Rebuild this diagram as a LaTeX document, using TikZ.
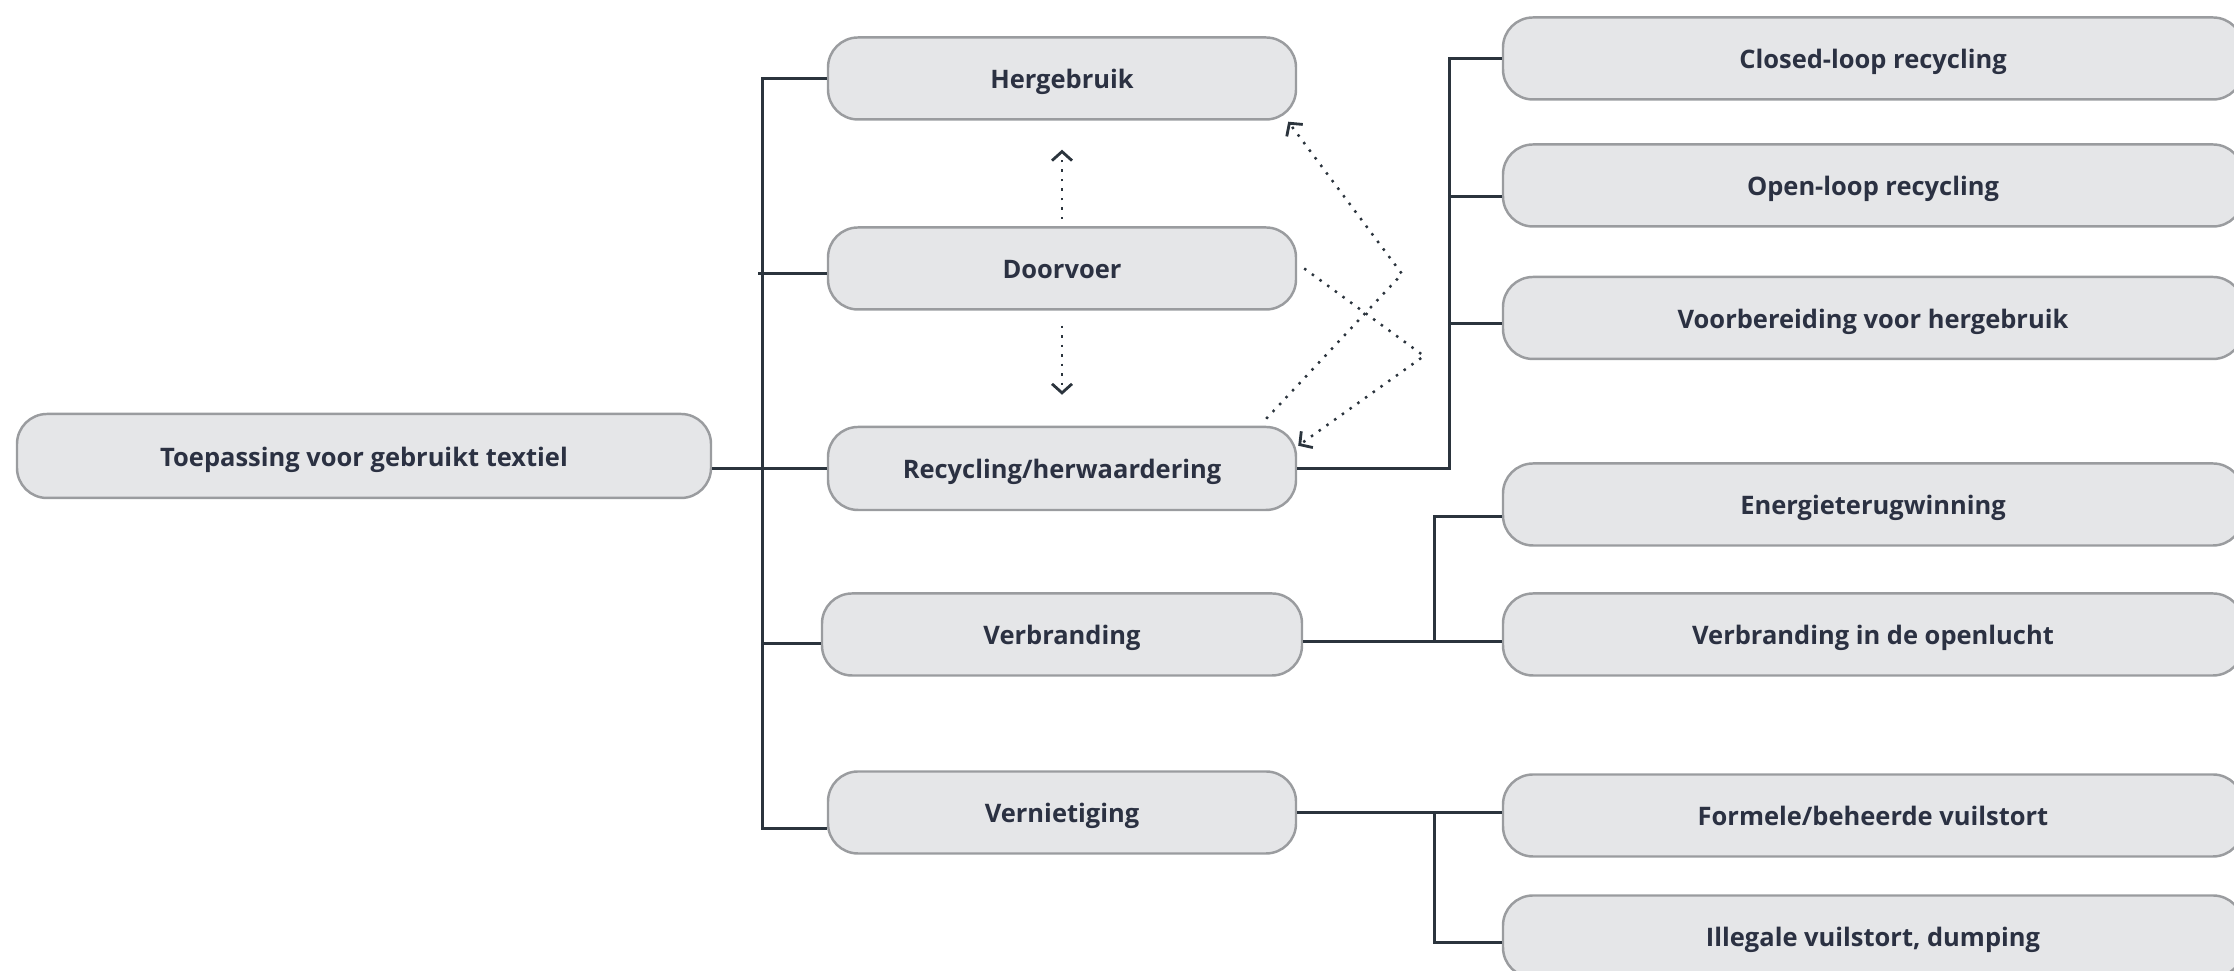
\documentclass[tikz,border=0pt]{standalone}
\usepackage{fontspec}
\setmainfont{Open Sans}
\usetikzlibrary{arrows.meta}

\definecolor{boxfill}{HTML}{E5E6E8}
\definecolor{boxline}{HTML}{9A9C9F}
\definecolor{linkcol}{HTML}{2B343D}
\definecolor{textcol}{HTML}{2B3142}

\tikzset{
  item/.style={draw=boxline, line width=0.7pt, fill=boxfill, rounded corners=0.3cm,
    minimum height=0.82cm, inner sep=0pt, text height=0.21cm, text depth=0cm,
    text=textcol, font=\bfseries\fontsize{7.25}{9}\selectfont},
  midbox/.style={item, minimum width=4.68cm},
  leafbox/.style={item, minimum width=7.40cm},
  link/.style={draw=linkcol, line width=0.85pt},
  dotlink/.style={draw=linkcol, line width=0.7pt, dotted,
    -{Straight Barb[length=0.09cm, width=0.2cm, line width=0.8pt]}}
}

\begin{document}
\begin{tikzpicture}
        \useasboundingbox (0,0) rectangle (22.34,9.71);
        \clip (0,0) rectangle (22.34,9.71);

        \node [item, minimum width=6.94cm, minimum height=0.84cm] (toep) at (3.64,5.15) {Toepassing voor gebruikt textiel};

        \node [midbox] (herg) at (10.62,8.925) {Hergebruik};
        \node [midbox] (door) at (10.62,7.025) {Doorvoer};
        \node [midbox, minimum height=0.83cm] (recy) at (10.62,5.025) {Recycling/herwaardering};
        \node [midbox, minimum width=4.80cm] (verb) at (10.62,3.365) {Verbranding};
        \node [midbox] (vern) at (10.62,1.585) {Vernietiging};

        \node [leafbox] (closed) at (18.73,9.125) {Closed-loop recycling};
        \node [leafbox] (open) at (18.73,7.855) {Open-loop recycling};
        \node [leafbox] (voorb) at (18.73,6.53) {Voorbereiding voor hergebruik};
        \node [leafbox] (energie) at (18.73,4.665) {Energieterugwinning};
        \node [leafbox] (openl) at (18.73,3.365) {Verbranding in de openlucht};
        \node [leafbox] (formeel) at (18.73,1.555) {Formele/beheerde vuilstort};
        \node [leafbox] (illegaal) at (18.73,0.345) {Illegale vuilstort, dumping};

        % tree lines
        \coordinate (spine) at (7.62,5.04);
        \coordinate (rfork) at (14.49,5.04);
        \coordinate (vfork) at (14.34,3.29);
        \coordinate (vernin) at ([yshift=-0.165cm]vern.west);
        \coordinate (verbin) at ([yshift=-0.09cm]verb.west);
        \coordinate (verbout) at ([yshift=-0.075cm]verb.east);

        \draw [link] (toep.east |- recy.west) -- (recy.west);
        \draw [link] (herg.west) -| (spine |- vernin) -- (vernin);
        \draw [link] ([xshift=-0.04cm]spine |- door.west) ++(0,-0.05) -- ([yshift=-0.05cm]door.west);
        \draw [link] (spine |- verbin) -- (verbin);

        \draw [link] (recy.east) -- (rfork |- recy.east) |- (closed.west);
        \draw [link] (rfork |- open.west) ++(0,-0.115) -- ([yshift=-0.115cm]open.west);
        \draw [link] (rfork |- voorb.west) ++(0,-0.06) -- ([yshift=-0.06cm]voorb.west);

        \draw [link] (verbout) -- (openl.west |- verbout);
        \draw [link] (vfork |- verbout) |- ([yshift=-0.125cm]energie.west);
        \draw [link] (vern.east) -- (formeel.west |- vern.east);
        \draw [link] (vfork |- vern.east) |- ([yshift=-0.065cm]illegaal.west);

        % dotted links
        \coordinate (bendA) at (14.02,6.97);
        \coordinate (bendB) at (14.24,6.15);
        \draw [dotlink, shorten <=0.07cm, shorten >=0.29cm] (door.north) -- (herg.south);
        \draw [dotlink, shorten <=0.15cm, shorten >=0.31cm] (door.south) -- (recy.north);
        \draw [dotlink] ([xshift=-0.31cm, yshift=0.07cm]recy.north east) -- (bendA) -- ([xshift=-0.09cm, yshift=-0.01cm]herg.south east);
        \draw [dotlink] ([xshift=0.07cm]door.east) -- (bendB) -- ([xshift=0.01cm, yshift=-0.2cm]recy.north east);

\end{tikzpicture}
\end{document}
